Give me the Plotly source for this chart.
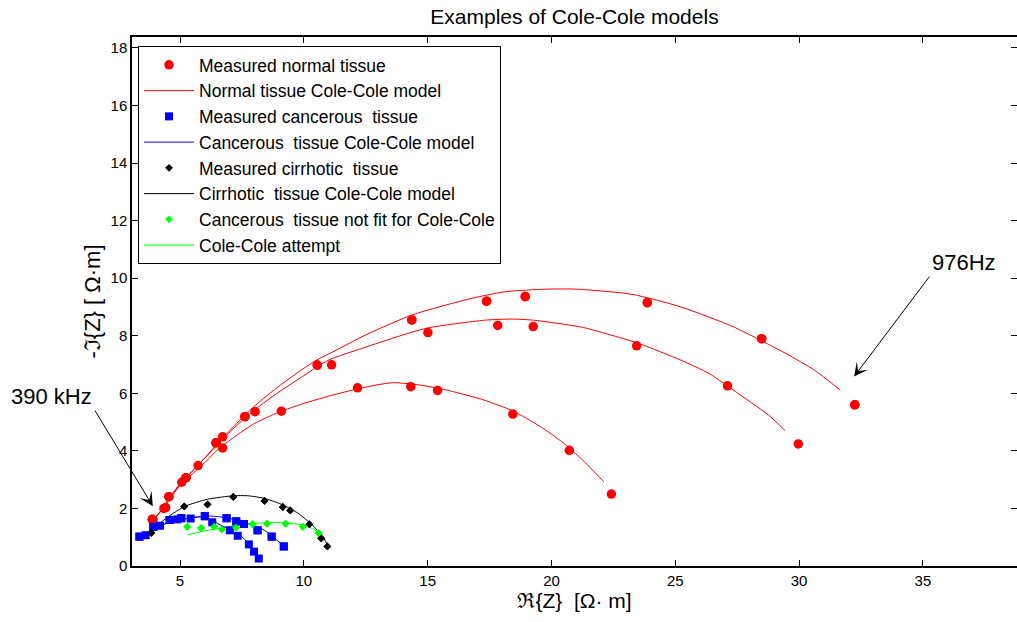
import plotly.graph_objects as go

# ---------------- data ----------------
# Normal tissue, three measurements (measured points)
normal1_x = [3.88, 4.55, 5.24, 6.45, 7.62, 10.54, 14.36, 17.38, 18.94, 23.87, 28.49, 32.25]
normal1_y = [1.62, 2.41, 3.07, 4.28, 5.19, 6.98, 8.55, 9.20, 9.36, 9.15, 7.90, 5.60]
normal2_x = [3.90, 4.35, 5.07, 5.73, 6.72, 8.03, 11.12, 15.01, 17.83, 19.26, 23.44, 27.11, 29.97]
normal2_y = [1.60, 2.00, 2.91, 3.49, 4.49, 5.36, 6.99, 8.11, 8.36, 8.32, 7.65, 6.26, 4.24]
normal3_x = [3.90, 4.42, 6.72, 9.09, 12.17, 14.32, 15.40, 18.44, 20.72, 22.42]
normal3_y = [1.60, 2.03, 4.10, 5.38, 6.19, 6.23, 6.10, 5.28, 4.02, 2.50]

# Normal tissue Cole-Cole model curves
normal1_fit_x = [3.88, 4.3, 4.6, 5.0, 5.5, 6.0, 6.5, 7.0, 7.6, 8.2, 9.0, 9.8, 10.5, 11.06, 12.48,
                 14.36, 16.73, 18.14, 19.84, 20.98, 23.25, 25.23, 27.35, 29.47, 30.61, 31.67]
normal1_fit_y = [1.55, 2.0, 2.4, 2.85, 3.3, 3.75, 4.25, 4.7, 5.22, 5.7, 6.25, 6.75, 7.15, 7.39, 8.02,
                 8.72, 9.29, 9.53, 9.62, 9.62, 9.44, 9.0, 8.31, 7.38, 6.81, 6.11]
normal2_fit_x = [3.88, 4.3, 4.6, 5.0, 5.5, 6.0, 6.5, 7.0, 7.6, 8.2, 9.0, 9.8, 10.5, 11.06, 12.34,
                 14.89, 17.29, 18.43, 19.28, 21.26, 23.53, 25.23, 26.36, 27.35, 28.77, 29.44]
normal2_fit_y = [1.55, 2.0, 2.4, 2.85, 3.3, 3.75, 4.2, 4.65, 5.12, 5.55, 6.05, 6.5, 6.9, 7.18, 7.56,
                 8.25, 8.54, 8.58, 8.54, 8.29, 7.73, 7.15, 6.69, 6.11, 5.24, 4.70]
normal3_fit_x = [3.88, 4.3, 4.6, 5.0, 5.5, 6.0, 6.6, 7.3, 8.0, 9.0, 10.0, 11.0, 12.0, 13.0, 13.61,
                 14.74, 15.88, 17.29, 18.43, 19.56, 20.41, 21.26, 22.11]
normal3_fit_y = [1.55, 1.98, 2.35, 2.8, 3.2, 3.6, 4.1, 4.55, 4.95, 5.35, 5.65, 5.9, 6.12, 6.3, 6.37,
                 6.28, 6.09, 5.76, 5.39, 4.84, 4.32, 3.68, 2.93]

# Cancerous tissue, two measurements
cancer1_x = [3.36, 3.92, 4.58, 5.05, 6.00, 6.88, 7.27, 7.58, 8.13, 8.70, 9.19]
cancer1_y = [1.02, 1.36, 1.60, 1.66, 1.73, 1.66, 1.55, 1.46, 1.24, 1.02, 0.68]
cancer2_x = [3.61, 4.19, 4.89, 5.43, 6.30, 7.01, 7.33, 7.78, 7.99, 8.18]
cancer2_y = [1.07, 1.40, 1.62, 1.65, 1.52, 1.24, 1.05, 0.75, 0.50, 0.26]
cancer1_fit_x = [3.36, 3.95, 4.62, 5.30, 6.11, 6.92, 7.73, 8.41, 9.19]
cancer1_fit_y = [1.01, 1.30, 1.53, 1.65, 1.74, 1.67, 1.48, 1.24, 0.69]
cancer2_fit_x = [3.36, 3.95, 4.62, 5.30, 5.97, 6.51, 7.05, 7.59, 8.18]
cancer2_fit_y = [1.01, 1.30, 1.53, 1.65, 1.71, 1.48, 1.24, 0.95, 0.26]

# Cirrhotic tissue
cirr_x = [3.84, 5.17, 6.11, 7.15, 8.41, 9.15, 9.45, 10.22, 10.70, 10.95]
cirr_y = [1.15, 2.07, 2.14, 2.40, 2.26, 2.05, 1.93, 1.45, 0.96, 0.68]
cirr_fit_x = [3.83, 4.35, 5.16, 6.11, 7.15, 7.74, 8.41, 9.16, 9.77, 10.24, 10.72, 10.96]
cirr_fit_y = [1.19, 1.60, 2.06, 2.32, 2.44, 2.44, 2.35, 2.12, 1.83, 1.50, 1.08, 0.73]

# Cancerous tissue not fit for Cole-Cole
green_x = [5.29, 5.85, 6.38, 6.69, 7.26, 7.93, 8.52, 9.26, 9.96, 10.60]
green_y = [1.36, 1.32, 1.37, 1.27, 1.33, 1.45, 1.47, 1.47, 1.36, 1.14]
green_fit_x = [5.28, 5.9, 6.5, 7.2, 7.9, 8.6, 9.25, 9.9, 10.3, 10.6]
green_fit_y = [1.08, 1.2, 1.3, 1.4, 1.47, 1.51, 1.51, 1.43, 1.32, 1.17]

x_ticks = [5, 10, 15, 20, 25, 30, 35]
y_ticks = [0, 2, 4, 6, 8, 10, 12, 14, 16, 18]

FONT = "Liberation Sans, Arial, sans-serif"
RED, BLUE, BLACK, GREEN = "#ff0000", "#0000ff", "#000000", "#00ff00"

fig = go.Figure()

def pts(x, y, name, color, symbol, size, show, group):
    fig.add_trace(go.Scatter(x=x, y=y, mode="markers", name=name, legendgroup=group,
                             showlegend=show, marker=dict(color=color, symbol=symbol, size=size,
                                                          line=dict(width=0))))

def fit(x, y, name, color, show, group):
    fig.add_trace(go.Scatter(x=x, y=y, mode="lines", name=name, legendgroup=group,
                             showlegend=show, line=dict(color=color, width=1, shape="spline",
                                                        smoothing=0.6)))

pts(normal1_x, normal1_y, "Measured normal tissue", RED, "circle", 9.5, True, "a")
fit(normal1_fit_x, normal1_fit_y, "Normal tissue Cole-Cole model", RED, True, "b")
pts(cancer1_x, cancer1_y, "Measured cancerous  tissue", BLUE, "square", 8, True, "c")
fit(cancer1_fit_x, cancer1_fit_y, "Cancerous  tissue Cole-Cole model", BLUE, True, "d")
pts(cirr_x, cirr_y, "Measured cirrhotic  tissue", BLACK, "diamond", 6, True, "e")
fit(cirr_fit_x, cirr_fit_y, "Cirrhotic  tissue Cole-Cole model", BLACK, True, "f")
pts(green_x, green_y, "Cancerous  tissue not fit for Cole-Cole", GREEN, "diamond", 6, True, "g")
fit(green_fit_x, green_fit_y, "Cole-Cole attempt", GREEN, True, "h")

fit(normal2_fit_x, normal2_fit_y, "n2", RED, False, "b")
fit(normal3_fit_x, normal3_fit_y, "n3", RED, False, "b")
fit(cancer2_fit_x, cancer2_fit_y, "c2", BLUE, False, "d")
pts(normal2_x, normal2_y, "n2", RED, "circle", 9.5, False, "a")
pts(normal3_x, normal3_y, "n3", RED, "circle", 9.5, False, "a")
pts(cancer2_x, cancer2_y, "c2", BLUE, "square", 8, False, "c")
# redraw main points on top of lines
pts(normal1_x, normal1_y, "n1", RED, "circle", 9.5, False, "a")
pts(cancer1_x, cancer1_y, "c1", BLUE, "square", 8, False, "c")
pts(cirr_x, cirr_y, "k1", BLACK, "diamond", 6, False, "e")
pts(green_x, green_y, "g1", GREEN, "diamond", 6, False, "g")

axis_common = dict(showline=True, linecolor="black", linewidth=1.5, mirror="ticks",
                   ticks="inside", ticklen=6, tickcolor="black", tickwidth=1,
                   showgrid=False, zeroline=False,
                   tickfont=dict(family=FONT, size=15, color="black"))

fig.update_xaxes(range=[3.06, 38.8], tickvals=x_ticks, **axis_common,
                 title=dict(text="ℜ{Z}  [Ω· m]", font=dict(family=FONT, size=21, color="black"),
                            standoff=2))
fig.update_yaxes(range=[0, 18.38], tickvals=y_ticks, **axis_common,
                 title=dict(text="-ℑ{Z} [ Ω·m]", font=dict(family=FONT, size=22, color="black"),
                            standoff=4))

# annotations: arrows and labels
fig.add_annotation(x=3.90, y=2.08, ax=1.53, ay=5.45, xref="x", yref="y", axref="x", ayref="y",
                   text="", showarrow=True, arrowhead=3, arrowsize=2.3, arrowwidth=1,
                   arrowcolor="black")
fig.add_annotation(x=(51 - 132) / 885, y=1 - (396 - 37) / 529, xref="paper", yref="paper",
                   xanchor="center", yanchor="middle",
                   text="390 kHz", showarrow=False,
                   font=dict(family=FONT, size=22, color="black"))
fig.add_annotation(x=32.22, y=6.58, ax=35.31, ay=10.11, xref="x", yref="y", axref="x", ayref="y",
                   text="", showarrow=True, arrowhead=3, arrowsize=2.3, arrowwidth=1,
                   arrowcolor="black")
fig.add_annotation(x=36.64, y=10.55, xref="x", yref="y", xanchor="center", yanchor="middle",
                   text="976Hz", showarrow=False,
                   font=dict(family=FONT, size=22, color="black"))

fig.update_layout(
    width=1017, height=622,
    margin=dict(l=132, r=0, t=37, b=56, autoexpand=False),
    paper_bgcolor="white", plot_bgcolor="white",
    font=dict(family=FONT, color="black"),
    title=dict(text="Examples of Cole-Cole models", x=0.5, xref="paper", y=1 - 17 / 622,
               yref="container", yanchor="middle",
               font=dict(family=FONT, size=21, color="black")),
    showlegend=True,
    legend=dict(x=0.0068, y=0.983, xanchor="left", yanchor="top", bgcolor="white",
                bordercolor="black", borderwidth=1, font=dict(family=FONT, size=17.5, color="black"),
                itemwidth=50, tracegroupgap=0, traceorder="normal"),
)

fig.write_html("out.html")
